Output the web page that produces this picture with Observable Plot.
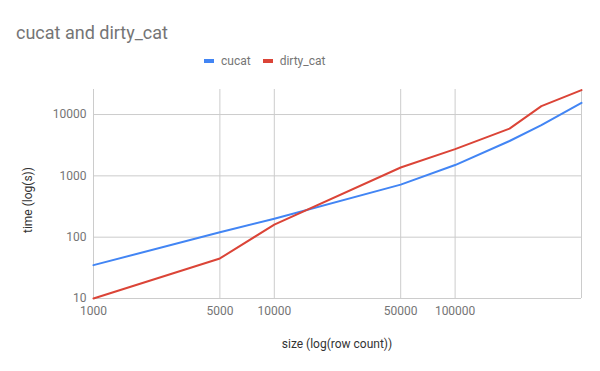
<!DOCTYPE html>
<html>
<head>
<meta charset="utf-8">
<script src="https://cdn.jsdelivr.net/npm/d3@7"></script>
<script src="https://cdn.jsdelivr.net/npm/@observablehq/plot@0.6"></script>
<style>
  html, body { margin: 0; padding: 0; background: #fff; }
  #wrap { position: relative; width: 600px; height: 371px; overflow: hidden; font-family: Roboto, sans-serif; }
  #wrap svg { position: absolute; left: 0; top: 0; }
  .title { position: absolute; left: 16px; top: 22px; font-size: 18px; color: #757575; white-space: nowrap; }
  .legend { position: absolute; left: 204px; top: 54px; display: flex; font-size: 12px; color: #757575; white-space: nowrap; }
  .legend .item { display: flex; align-items: center; margin-right: 12px; }
  .legend .sw { width: 10px; height: 4px; margin-right: 7px; }
  .xtitle { position: absolute; left: 0; width: 674px; top: 337px; text-align: center; font-size: 12px; color: #333; white-space: nowrap; }
  .ytitle { position: absolute; left: 28px; top: 200px; font-size: 12px; color: #333; white-space: nowrap; transform: translate(-50%, -50%) rotate(-90deg); }
</style>
</head>
<body>
<div id="wrap"></div>
<script>
const chartTitle = "cucat and dirty_cat";
const xLabel = "size (log(row count))";
const yLabel = "time (log(s))";
const seriesNames = ["cucat", "dirty_cat"];
const seriesColors = ["#4285F4", "#DB4437"];
const sizes = [1000, 5000, 10000, 50000, 100000, 200000, 300000, 500000];
const cucat = [35, 120, 200, 720, 1500, 3700, 6700, 15500];
const dirtyCat = [10, 45, 160, 1370, 2730, 5900, 13700, 25000];
const xTicks = [1000, 5000, 10000, 50000, 100000];
const yTicks = [10, 100, 1000, 10000];

const data = [
  ...sizes.map((s, i) => ({size: s, time: cucat[i], series: seriesNames[0]})),
  ...sizes.map((s, i) => ({size: s, time: dirtyCat[i], series: seriesNames[1]}))
];

const xDomain = [1000, 500000];
const yDomain = [10, 25600];

const chart = Plot.plot({
  width: 600,
  height: 371,
  marginLeft: 93,
  marginRight: 19,
  marginTop: 89,
  marginBottom: 73,
  style: {fontFamily: "Roboto, sans-serif", fontSize: "12px", color: "#757575", background: "transparent"},
  x: {type: "log", domain: xDomain, axis: null},
  y: {type: "log", domain: yDomain},
  color: {domain: seriesNames, range: seriesColors},
  marks: [
    Plot.ruleX([...xTicks, xDomain[1]], {stroke: "#cccccc", strokeWidth: 1}),
    Plot.ruleY(yTicks, {stroke: "#cccccc", strokeWidth: 1}),
    Plot.text(xTicks, {x: d => d, frameAnchor: "bottom", lineAnchor: "top", dy: 8, text: d => String(d), fill: "#757575", fontSize: 12}),
    Plot.axisY({ticks: yTicks, tickSize: 0, tickPadding: 7, tickFormat: d => String(d), label: null, fill: "#757575"}),
    Plot.line(data, {x: "size", y: "time", z: "series", stroke: "series", strokeWidth: 2})
  ]
});

const wrap = document.getElementById("wrap");
wrap.appendChild(chart);

const t = document.createElement("div");
t.className = "title";
t.textContent = chartTitle;
wrap.appendChild(t);

const lg = document.createElement("div");
lg.className = "legend";
seriesNames.forEach((name, i) => {
  const it = document.createElement("div");
  it.className = "item";
  const sw = document.createElement("span");
  sw.className = "sw";
  sw.style.background = seriesColors[i];
  const tx = document.createElement("span");
  tx.textContent = name;
  it.appendChild(sw);
  it.appendChild(tx);
  lg.appendChild(it);
});
wrap.appendChild(lg);

const xt = document.createElement("div");
xt.className = "xtitle";
xt.textContent = xLabel;
wrap.appendChild(xt);

const yt = document.createElement("div");
yt.className = "ytitle";
yt.textContent = yLabel;
wrap.appendChild(yt);
</script>
</body>
</html>
